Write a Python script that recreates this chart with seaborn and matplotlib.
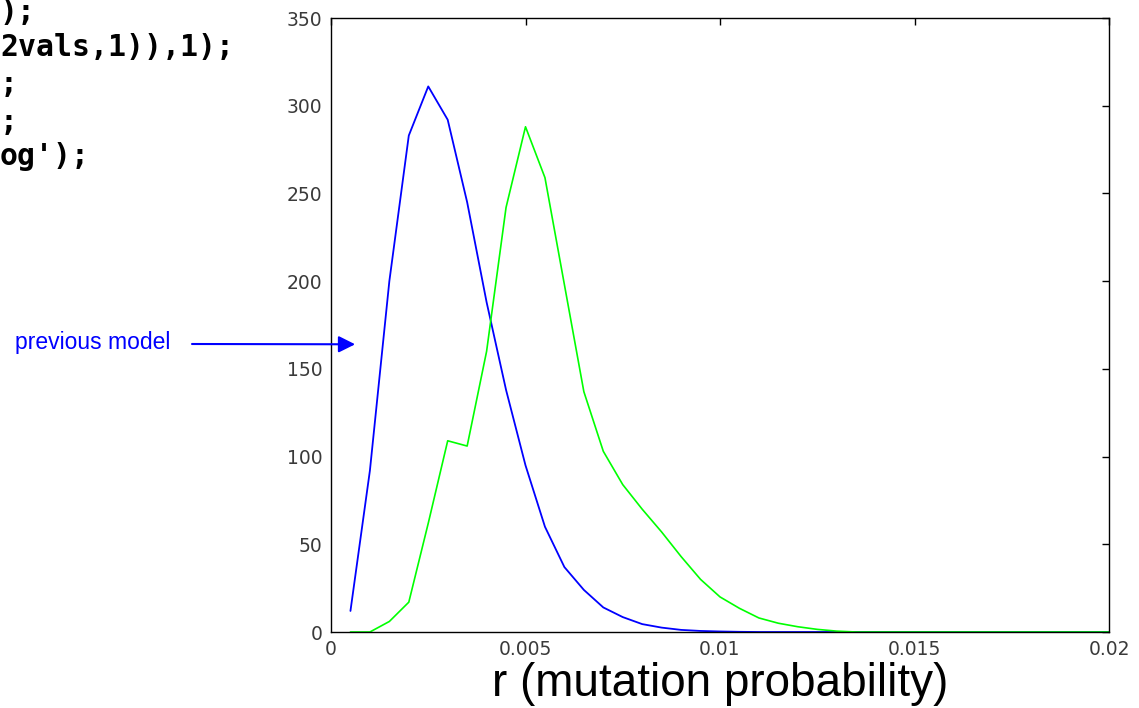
import numpy as np
import pandas as pd
import seaborn as sns
import matplotlib.pyplot as plt

# mutation probability grid (step 0.0005)
r_vals = [0.0005, 0.001, 0.0015, 0.002, 0.0025, 0.003, 0.0035, 0.004, 0.0045, 0.005,
          0.0055, 0.006, 0.0065, 0.007, 0.0075, 0.008, 0.0085, 0.009, 0.0095, 0.01,
          0.0105, 0.011, 0.0115, 0.012, 0.0125, 0.013, 0.0135, 0.014, 0.0145, 0.015,
          0.0155, 0.016, 0.0165, 0.017, 0.0175, 0.018, 0.0185, 0.019, 0.0195, 0.02]

# previous model (blue)
counts_prev = [12, 92, 200, 283, 311, 292, 245, 188, 138, 95,
               60, 37, 24, 14, 8.5, 4.5, 2.5, 1.2, 0.6, 0.3,
               0.1, 0, 0, 0, 0, 0, 0, 0, 0, 0,
               0, 0, 0, 0, 0, 0, 0, 0, 0, 0]

# new model (green)
counts_new = [0, 0, 6, 17, 62, 109, 106, 160, 242, 288,
              259, 198, 137, 103, 84, 70, 57, 43, 30, 20,
              13.5, 8, 5, 3, 1.5, 0.5, 0, 0, 0, 0,
              0, 0, 0, 0, 0, 0, 0, 0, 0, 0]

code_lines = [");", "2vals,1)),1);", ";", ";", "og');"]

sns.set_style("white")
plt.rcParams['font.family'] = ['Liberation Sans', 'DejaVu Sans']

df = pd.DataFrame({'r': r_vals, 'prev': counts_prev, 'new': counts_new})

fig = plt.figure(figsize=(11.39, 7.08), dpi=100)
ax = fig.add_axes([331 / 1139, 1 - 632 / 708, 778 / 1139, 614 / 708])

sns.lineplot(data=df, x='r', y='prev', color='#0000ff', lw=1.3, ax=ax)
sns.lineplot(data=df, x='r', y='new', color='#00ff00', lw=1.2, ax=ax)

ax.set_xlim(0, 0.02)
ax.set_ylim(0, 350)
ax.set_xticks([0, 0.005, 0.01, 0.015, 0.02])
ax.set_xticklabels(['0', '0.005', '0.01', '0.015', '0.02'])
ax.set_yticks(np.arange(0, 351, 50))
ax.tick_params(direction='in', length=5, width=1, top=True, right=True,
               labelsize=13.5, labelcolor='#3a3a3a', color='black', pad=6)
for lab in ax.get_xticklabels() + ax.get_yticklabels():
    lab.set_family('DejaVu Sans')
for s in ax.spines.values():
    s.set_color('black')
    s.set_linewidth(1)

ax.set_ylabel('')
ax.set_xlabel('r (mutation probability)', fontsize=33, color='black', labelpad=2)

# cut-off code text at the left
baselines = [21, 56, 93, 131, 165]
for txt, yb in zip(code_lines, baselines):
    fig.text(0, 1 - yb / 708, txt, family='DejaVu Sans Mono', fontweight='bold',
             fontsize=21.5, va='baseline', ha='left', color='black')

# annotation
fig.text(15 / 1139, 1 - 342 / 708, 'previous model', color='#0000ff', fontsize=16.5,
         va='center', ha='left')
ax.annotate('', xy=(0.00062, 164), xycoords='data',
            xytext=(192 / 1139, 1 - 344 / 708), textcoords='figure fraction',
            arrowprops=dict(arrowstyle='-|>', color='#0000ff', lw=1.5,
                            mutation_scale=25, shrinkA=0, shrinkB=0),
            annotation_clip=False)

fig.savefig('out.png', dpi=100)
